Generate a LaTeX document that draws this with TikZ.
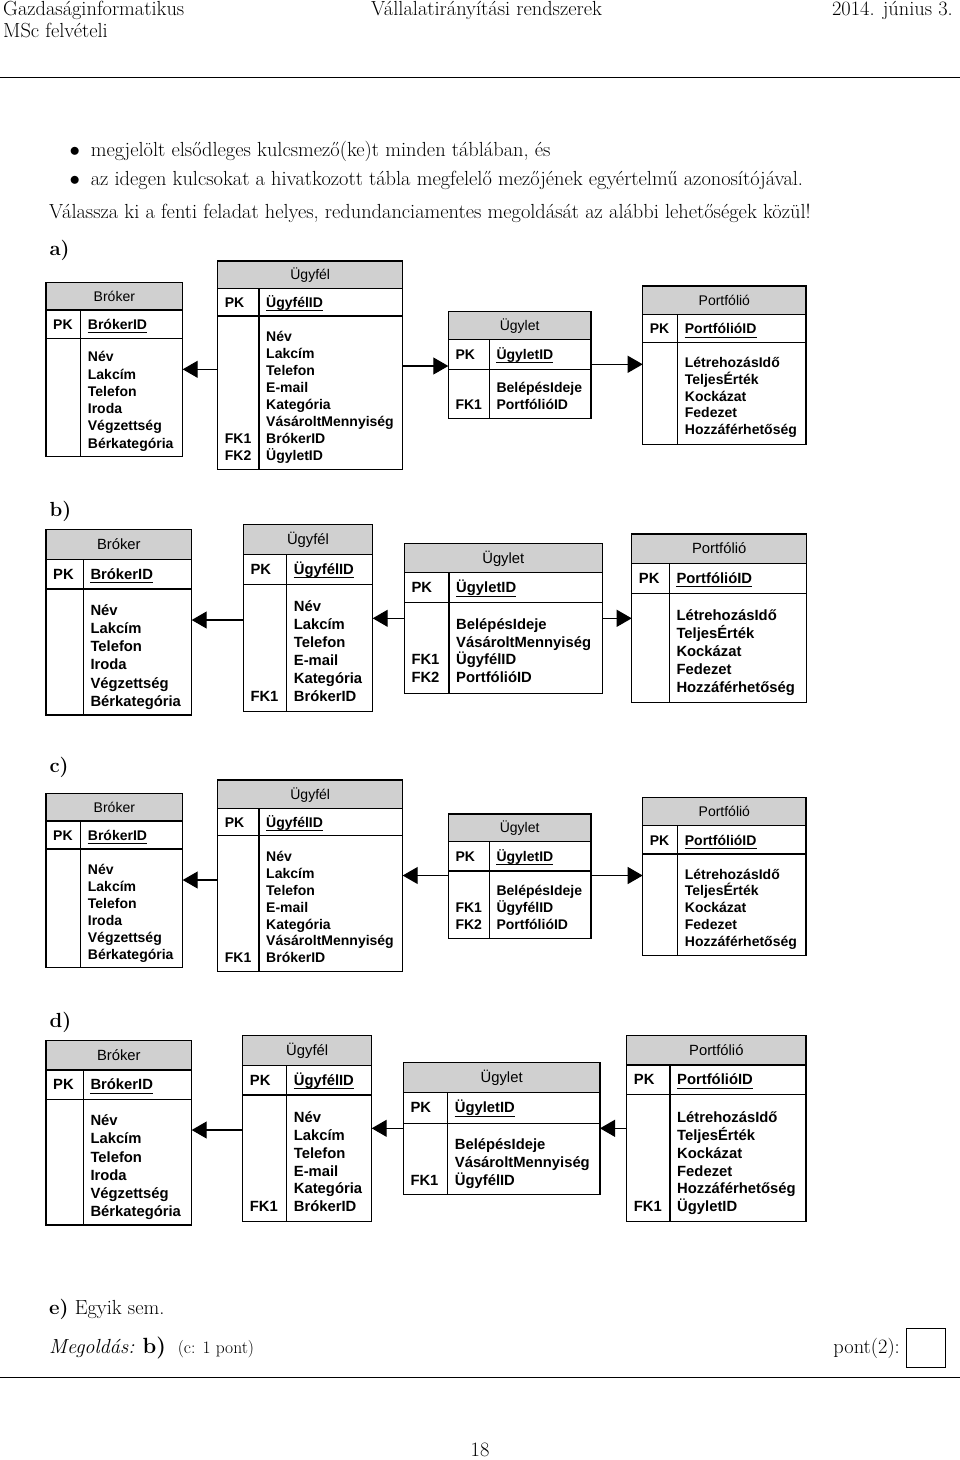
\documentclass[tikz,border=0pt]{standalone}
\usepackage{fontspec}
\newfontfamily\arial{Liberation Sans}
\usetikzlibrary{arrows.meta}
\definecolor{hdrgray}{RGB}{208,208,208}
\def\tabfs{\fontsize{14}{17}\selectfont}
\tikzset{
  tbox/.style={draw, line width=1.1pt, inner sep=0pt, outer sep=0pt},
  tline/.style={line width=1.1pt},
  hdrtxt/.style={font=\arial\tabfs, inner sep=0pt, anchor=base},
  fld/.style={font=\arial\bfseries\tabfs, inner sep=0pt, anchor=base west, text depth=3pt},
  arr/.style={line width=1.1pt, -{Triangle[length=15pt,width=17pt]}},
  body/.style={font=\fontsize{20.4}{24}\selectfont, inner sep=0pt, anchor=base west},
  rulel/.style={line width=1.2pt},
}
% name, L, D, R, T, H, P, B, title
\newcommand\ertab[9]{%
  \fill[hdrgray] (#2,#5) rectangle (#4,#6);
  \node[tbox, anchor=north west, minimum width={(#4)-(#2)}, minimum height={(#8)-(#5)}] (#1) at (#2,#5) {};
  \draw[tline] (#2,#6) -- (#4,#6) (#2,#7) -- (#4,#7) (#3,#6) -- (#3,#8);
  \node[hdrtxt] (#1-t) at ({(#2+#4)/2},{(#5+#6)/2+5}) {#9};
}
% name, L, D, ycenter, key
\newcommand\pkrow[5]{%
  \node[fld] (#1-pk) at ({#2+7},{#4+5}) {PK};
  \node[fld] (#1-key) at ({#3+7},{#4+5}) {#5};
  \draw[line width=1pt] ([yshift=-0.3pt]#1-key.south west) -- ([yshift=-0.3pt]#1-key.south east);
}
% name, D, y1, dy, list
\newcommand\fields[5]{%
  \foreach \fname [count=\fidx] in {#5} {\node[fld] (#1-f\fidx) at ({#2+7},{#3+5+(\fidx-1)*#4}) {\fname};}
}
% name, L, ycenter, number
\newcommand\fk[4]{\node[fld] (#1-fk#4) at ({#2+7},{#3+5}) {FK#4};}
\begin{document}
\begin{tikzpicture}[x=1pt,y=-1pt]
\useasboundingbox (0,0) rectangle (960,1460);
% page header
\node[body] (hl1) at (3,15.5) {Gazdaságinformatikus};
\node[body] (hl2) at (3,37) {MSc felvételi};
\node[body, anchor=base] (hc) at (486.5,15.5) {Vállalatirányítási rendszerek};
\node[body, anchor=base east] (hr) at (953,15.5) {2014. június 3.};
\draw[rulel] (0,77.7) -- (960,77.7);
\node[body] (b1) at (69.5,156) {$\bullet$};
\node[body] (t1) at (90.6,156) {megjelölt elsődleges kulcsmező(ke)t minden táblában, és};
\node[body] (b2) at (69.5,185) {$\bullet$};
\node[body] (t2) at (90.6,185) {az idegen kulcsokat a hivatkozott tábla megfelelő mezőjének egyértelmű azonosítójával.};
\node[body] (t3) at (49,218.5) {Válassza ki a fenti feladat helyes, redundanciamentes megoldását az alábbi lehetőségek közül!};
\node[body] (la) at (49.3,255) {\textbf{a)}};
\node[body] (lb) at (49.3,516) {\textbf{b)}};
\node[body] (lc) at (49.3,772) {\textbf{c)}};
\node[body] (ld) at (49.3,1027) {\textbf{d)}};
% ---------- a)
\def\tabfs{\fontsize{14}{17}\selectfont}
\ertab{abr}{46}{80.7}{182.7}{282.3}{310}{338.3}{456.7}{Bróker}
\pkrow{abr}{46}{80.7}{324.2}{BrókerID}
\fields{abr}{80.7}{356.7}{17.3}{Név,Lakcím,Telefon,Iroda,Végzettség,Bérkategória}
\ertab{auf}{217.7}{259}{402.7}{261}{288.3}{316}{469.3}{Ügyfél}
\pkrow{auf}{217.7}{259}{302}{ÜgyfélID}
\fields{auf}{259}{336.7}{16.9}{Név,Lakcím,Telefon,E-mail,Kategória,VásároltMennyiség,BrókerID,ÜgyletID}
\fk{auf}{217.7}{438.1}{1}
\fk{auf}{217.7}{455}{2}
\ertab{aul}{448.3}{489.3}{591}{311.7}{339.3}{369.3}{418.3}{Ügylet}
\pkrow{aul}{448.3}{489.3}{354.3}{ÜgyletID}
\fields{aul}{489.3}{387.7}{16.7}{BelépésIdeje,PortfólióID}
\fk{aul}{448.3}{404.4}{1}
\ertab{apf}{642.7}{677.7}{806}{286}{314.3}{342.7}{444.3}{Portfólió}
\pkrow{apf}{642.7}{677.7}{328.5}{PortfólióID}
\fields{apf}{677.7}{362.7}{16.65}{LétrehozásIdő,TeljesÉrték,Kockázat,Fedezet,Hozzáférhetőség}
\draw[arr] (auf.west |- 0,369.3) -- (abr.east |- 0,369.3);
\draw[arr] (auf.east |- 0,366) -- (aul.west |- 0,366);
\draw[arr] (aul.east |- 0,364.3) -- (apf.west |- 0,364.3);
% ---------- b)
\def\tabfs{\fontsize{14.8}{18}\selectfont}
\ertab{bbr}{46}{83.3}{191.7}{529.3}{559.3}{589}{715}{Bróker}
\pkrow{bbr}{46}{83.3}{574.2}{BrókerID}
\fields{bbr}{83.3}{610}{18.3}{Név,Lakcím,Telefon,Iroda,Végzettség,Bérkategória}
\ertab{buf}{243.3}{286.7}{372.7}{524.3}{554.3}{584.3}{711.7}{Ügyfél}
\pkrow{buf}{243.3}{286.7}{569.3}{ÜgyfélID}
\fields{buf}{286.7}{606.7}{18}{Név,Lakcím,Telefon,E-mail,Kategória,BrókerID}
\fk{buf}{243.3}{696.7}{1}
\ertab{bul}{404.3}{449}{602.3}{543.3}{572.7}{602.7}{693.3}{Ügylet}
\pkrow{bul}{404.3}{449}{587.7}{ÜgyletID}
\fields{bul}{449}{624.3}{17.8}{BelépésIdeje,VásároltMennyiség,ÜgyfélID,PortfólióID}
\fk{bul}{404.3}{659.9}{1}
\fk{bul}{404.3}{677.7}{2}
\ertab{bpf}{631.7}{669.3}{806.7}{534}{563.3}{593.3}{702.3}{Portfólió}
\pkrow{bpf}{631.7}{669.3}{578.3}{PortfólióID}
\fields{bpf}{669.3}{615.7}{18}{LétrehozásIdő,TeljesÉrték,Kockázat,Fedezet,Hozzáférhetőség}
\draw[arr] (buf.west |- 0,620) -- (bbr.east |- 0,620);
\draw[arr] (bul.west |- 0,618.3) -- (buf.east |- 0,618.3);
\draw[arr] (bul.east |- 0,618.3) -- (bpf.west |- 0,618.3);
% ---------- c)
\def\tabfs{\fontsize{14}{17}\selectfont}
\ertab{cbr}{46}{80.7}{182.7}{793.3}{821}{849}{967.7}{Bróker}
\pkrow{cbr}{46}{80.7}{835}{BrókerID}
\fields{cbr}{80.7}{869.3}{17}{Név,Lakcím,Telefon,Iroda,Végzettség,Bérkategória}
\ertab{cuf}{217.7}{259}{402.7}{780}{808.3}{835.7}{971.7}{Ügyfél}
\pkrow{cuf}{217.7}{259}{822}{ÜgyfélID}
\fields{cuf}{259}{856.7}{16.85}{Név,Lakcím,Telefon,E-mail,Kategória,VásároltMennyiség,BrókerID}
\fk{cuf}{217.7}{957.8}{1}
\ertab{cul}{448.3}{489.3}{591}{814}{841.7}{871}{938.3}{Ügylet}
\pkrow{cul}{448.3}{489.3}{856.3}{ÜgyletID}
\fields{cul}{489.3}{890}{17}{BelépésIdeje,ÜgyfélID,PortfólióID}
\fk{cul}{448.3}{907}{1}
\fk{cul}{448.3}{924}{2}
\ertab{cpf}{642.7}{677.7}{806}{797.3}{825.7}{854}{955.7}{Portfólió}
\pkrow{cpf}{642.7}{677.7}{840}{PortfólióID}
\fields{cpf}{677.7}{874}{16.75}{LétrehozásIdő,TeljesÉrték,Kockázat,Fedezet,Hozzáférhetőség}
\draw[arr] (cuf.west |- 0,880) -- (cbr.east |- 0,880);
\draw[arr] (cul.west |- 0,875.5) -- (cuf.east |- 0,875.5);
\draw[arr] (cul.east |- 0,875.5) -- (cpf.west |- 0,875.5);
% ---------- d)
\def\tabfs{\fontsize{14.8}{18}\selectfont}
\ertab{dbr}{46}{83.3}{191.7}{1040.7}{1070}{1099.3}{1225}{Bróker}
\pkrow{dbr}{46}{83.3}{1084.7}{BrókerID}
\fields{dbr}{83.3}{1120.7}{18.2}{Név,Lakcím,Telefon,Iroda,Végzettség,Bérkategória}
\ertab{duf}{242.7}{286.7}{371.7}{1035.7}{1065.7}{1095}{1221.7}{Ügyfél}
\pkrow{duf}{242.7}{286.7}{1080.4}{ÜgyfélID}
\fields{duf}{286.7}{1117.3}{17.9}{Név,Lakcím,Telefon,E-mail,Kategória,BrókerID}
\fk{duf}{242.7}{1206.8}{1}
\ertab{dul}{403.3}{447.7}{600}{1062.7}{1092.3}{1123.3}{1194.3}{Ügylet}
\pkrow{dul}{403.3}{447.7}{1107.8}{ÜgyletID}
\fields{dul}{447.7}{1144.3}{17.85}{BelépésIdeje,VásároltMennyiség,ÜgyfélID}
\fk{dul}{403.3}{1180}{1}
\ertab{dpf}{626.7}{670}{806}{1035.7}{1065}{1094.3}{1221.7}{Portfólió}
\pkrow{dpf}{626.7}{670}{1079.7}{PortfólióID}
\fields{dpf}{670}{1117.3}{17.9}{LétrehozásIdő,TeljesÉrték,Kockázat,Fedezet,Hozzáférhetőség,ÜgyletID}
\fk{dpf}{626.7}{1206.8}{1}
\draw[arr] (duf.west |- 0,1130) -- (dbr.east |- 0,1130);
\draw[arr] (dul.west |- 0,1128.3) -- (duf.east |- 0,1128.3);
\draw[arr] (dpf.west |- 0,1128.3) -- (dul.east |- 0,1128.3);
% ---------- bottom
\node[body] (le) at (49,1314) {\textbf{e)} Egyik sem.};
\node[body] (meg) at (49,1353) {\textit{Megoldás:} {\fontsize{22}{25}\selectfont\textbf{b)}}};
\node[body, font=\fontsize{17.5}{21}\selectfont] (cp) at (177.6,1353) {(c: 1 pont)};
\node[body, anchor=base east] (pont) at (900,1353) {pont(2):};
\node[draw, line width=1pt, minimum width=39pt, minimum height=39pt, inner sep=0pt, outer sep=0pt, anchor=north west] (pbox) at (906,1328) {};
\draw[rulel] (0,1377.7) -- (960,1377.7);
\node[body, anchor=base] (pg) at (480,1456) {18};
\end{tikzpicture}
\end{document}
